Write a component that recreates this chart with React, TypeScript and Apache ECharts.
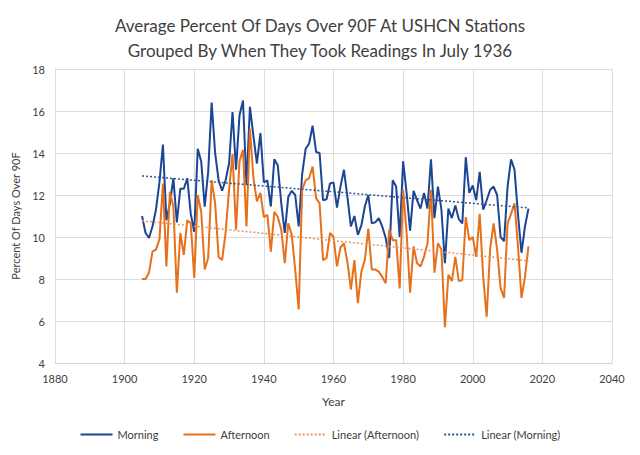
import React, { useEffect, useRef } from "react";
import * as echarts from "echarts";

const FIRST_YEAR = 1905;

const morning: number[] = [
  11.0, 10.2, 9.95, 10.5, 11.3, 12.6, 14.4, 10.8, 11.6, 12.8,
  10.7, 12.3, 12.3, 12.8, 11.1, 10.25, 14.2, 13.6, 11.45, 13.1,
  16.4, 14.0, 12.7, 12.2, 12.7, 13.5, 15.95, 13.2, 15.8, 16.5,
  12.5, 16.2, 14.8, 13.5, 14.95, 12.6, 12.7, 11.45, 13.7, 13.4,
  11.6, 10.2, 11.9, 12.2, 12.0, 10.5, 13.0, 14.2, 14.45, 15.3,
  14.05, 14.0, 11.75, 11.8, 12.55, 12.6, 11.4, 12.4, 13.2, 11.9,
  10.5, 11.0, 10.1, 10.55, 11.45, 12.0, 10.65, 10.7, 10.9, 10.5,
  9.95, 9.0, 12.7, 12.4, 10.0, 13.6, 12.1, 10.3, 12.2, 11.75,
  11.35, 12.1, 11.35, 13.7, 10.9, 12.4, 11.3, 8.75, 11.35, 10.9,
  11.5, 10.85, 10.65, 13.8, 12.1, 12.45, 11.75, 13.1, 11.3, 11.75,
  12.25, 12.4, 12.0, 10.0, 9.8, 12.4, 13.7, 13.2, 11.05, 9.25,
  10.5, 11.35,
];

const afternoon: number[] = [
  8.0, 8.0, 8.3, 9.3, 9.4, 9.9, 12.55, 8.6, 12.15, 11.45,
  7.35, 10.2, 9.15, 10.8, 10.65, 8.05, 12.0, 11.2, 8.45, 9.0,
  12.7, 11.6, 9.05, 8.9, 10.2, 12.25, 13.95, 10.35, 13.6, 14.15,
  10.5, 15.15, 12.8, 11.7, 12.1, 10.95, 11.05, 9.3, 11.2, 10.95,
  10.35, 8.75, 10.65, 10.1, 8.45, 6.55, 12.25, 12.7, 12.8, 13.35,
  11.85, 11.6, 8.9, 9.0, 10.2, 10.0, 8.6, 9.5, 9.7, 8.8,
  7.5, 8.9, 6.85, 8.35, 8.9, 10.4, 8.45, 8.45, 8.35, 8.1,
  7.8, 10.35, 9.85, 9.85, 7.55, 12.25, 10.2, 7.35, 9.55, 8.75,
  8.6, 9.05, 9.7, 12.25, 8.3, 9.7, 9.4, 5.7, 8.2, 7.9,
  9.05, 7.9, 7.95, 10.95, 9.85, 10.0, 9.05, 11.1, 8.1, 6.2,
  9.45, 10.65, 9.4, 7.55, 7.1, 10.65, 11.1, 11.6, 9.55, 7.1,
  8.1, 9.55,
];

const seriesNames = ["Morning", "Afternoon", "Linear (Afternoon)", "Linear (Morning)"];
const xTicks = { min: 1880, max: 2040, interval: 20 };
const yTicks = { min: 4, max: 18, interval: 2 };

const years = morning.map((_, i) => FIRST_YEAR + i);

function pairs(vals: number[]): [number, number][] {
  return vals.map((v, i) => [years[i], v]);
}

function trend(vals: number[]): [number, number][] {
  const n = vals.length;
  let sx = 0, sy = 0, sxx = 0, sxy = 0;
  for (let i = 0; i < n; i++) {
    const x = years[i];
    const y = vals[i];
    sx += x; sy += y; sxx += x * x; sxy += x * y;
  }
  const b = (n * sxy - sx * sy) / (n * sxx - sx * sx);
  const a = (sy - b * sx) / n;
  const x0 = years[0];
  const x1 = years[n - 1];
  return [[x0, a + b * x0], [x1, a + b * x1]];
}

const FONT = "Lato, 'Open Sans', sans-serif";
const BLUE = "#1C4594";
const ORANGE = "#E6701C";

export default function App() {
  const ref = useRef<HTMLDivElement>(null);
  useEffect(() => {
    if (!ref.current) return;
    const chart = echarts.init(ref.current, undefined, { renderer: "svg" });
    chart.setOption({
      animation: false,
      backgroundColor: "#ffffff",
      textStyle: { fontFamily: FONT },
      title: {
        text: "Average Percent Of Days Over 90F At USHCN Stations\nGrouped By When They Took Readings In July 1936",
        left: "center",
        top: 8,
        textStyle: {
          fontFamily: FONT,
          fontSize: 17,
          fontWeight: "normal",
          color: "#404040",
          lineHeight: 25,
        },
      },
      grid: { left: 55, right: 28, top: 69, bottom: 92, containLabel: false },
      xAxis: {
        type: "value",
        min: xTicks.min,
        max: xTicks.max,
        interval: xTicks.interval,
        name: "Year",
        nameLocation: "middle",
        nameGap: 32,
        nameTextStyle: { fontFamily: FONT, fontSize: 12, color: "#404040" },
        axisLine: { show: true, lineStyle: { color: "#d0d0d0", width: 1 } },
        axisTick: { show: false },
        axisLabel: {
          fontFamily: FONT,
          fontSize: 11,
          color: "#404040",
          margin: 10,
          formatter: (v: number) => String(v),
        },
        splitLine: { show: true, lineStyle: { color: "#dcdcdc", width: 1 } },
      },
      yAxis: {
        type: "value",
        min: yTicks.min,
        max: yTicks.max,
        interval: yTicks.interval,
        name: "Percent Of Days Over 90F",
        nameLocation: "middle",
        nameGap: 21,
        nameTextStyle: { fontFamily: FONT, fontSize: 11, color: "#404040" },
        axisLine: { show: true, lineStyle: { color: "#dcdcdc", width: 1 } },
        axisTick: { show: false },
        axisLabel: { fontFamily: FONT, fontSize: 11, color: "#404040", margin: 10 },
        splitLine: { show: true, lineStyle: { color: "#dcdcdc", width: 1 } },
      },
      legend: {
        bottom: 10,
        left: "center",
        itemWidth: 32,
        itemHeight: 10,
        itemGap: 24,
        data: seriesNames,
        itemStyle: { opacity: 0 },
        textStyle: { fontFamily: FONT, fontSize: 11, color: "#404040" },
      },
      series: [
        {
          name: seriesNames[0],
          type: "line",
          data: pairs(morning),
          symbol: "none",
          color: BLUE,
          lineStyle: { color: BLUE, width: 2 },
          z: 2,
        },
        {
          name: seriesNames[1],
          type: "line",
          data: pairs(afternoon),
          symbol: "none",
          color: ORANGE,
          lineStyle: { color: ORANGE, width: 2 },
          z: 3,
        },
        {
          name: seriesNames[2],
          type: "line",
          data: trend(afternoon),
          symbol: "none",
          color: "#E8955A",
          lineStyle: { color: "#E8955A", width: 1.5, type: [2, 2] },
          z: 4,
        },
        {
          name: seriesNames[3],
          type: "line",
          data: trend(morning),
          symbol: "none",
          color: "#2F5597",
          lineStyle: { color: "#2F5597", width: 1.5, type: [2, 2] },
          z: 5,
        },
      ],
    });
    return () => chart.dispose();
  }, []);
  return (
    <div
      ref={ref}
      style={{ position: "fixed", left: 0, top: 0, width: 640, height: 455, background: "#fff" }}
    />
  );
}
